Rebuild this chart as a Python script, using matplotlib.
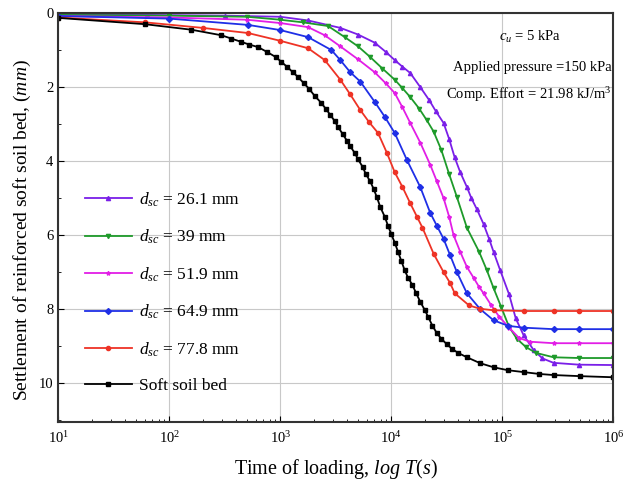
import numpy as np
import matplotlib
matplotlib.use("Agg")
import matplotlib.pyplot as plt

plt.rcParams['font.family'] = ['Liberation Serif', 'DejaVu Serif']
plt.rcParams['mathtext.fontset'] = 'custom'
plt.rcParams['mathtext.rm'] = 'Liberation Serif'
plt.rcParams['mathtext.it'] = 'Liberation Serif:italic'

# settlement curves, log10 of time (s) and settlement (mm)
purple_logt = [1.0, 1.8, 2.5, 3.0, 3.25, 3.54, 3.7, 3.85, 3.95, 4.03, 4.1, 4.17, 4.26, 4.34, 4.4, 4.47,
               4.52, 4.57, 4.62, 4.68, 4.72, 4.77, 4.83, 4.88, 4.92, 4.98, 5.06, 5.12, 5.19, 5.28, 5.36,
               5.46, 5.69, 6.0]
purple_s = [0.03, 0.05, 0.07, 0.1, 0.2, 0.4, 0.58, 0.8, 1.05, 1.27, 1.45, 1.62, 2.0, 2.35, 2.65, 2.97,
            3.4, 3.9, 4.3, 4.7, 5.0, 5.3, 5.7, 6.1, 6.45, 6.95, 7.6, 8.25, 8.7, 9.1, 9.33,
            9.45, 9.5, 9.51]

green_logt = [1.0, 2.0, 2.7, 3.0, 3.2, 3.43, 3.58, 3.7, 3.81, 3.92, 4.03, 4.1, 4.17, 4.25, 4.32, 4.38,
              4.45, 4.52, 4.59, 4.68, 4.79, 4.86, 4.92, 4.99, 5.06, 5.13, 5.21, 5.3, 5.46, 5.69, 6.0]
green_s = [0.05, 0.07, 0.1, 0.18, 0.25, 0.35, 0.65, 0.9, 1.19, 1.5, 1.8, 2.03, 2.27, 2.58, 2.9, 3.2,
           3.7, 4.35, 4.97, 5.8, 6.45, 6.95, 7.43, 7.95, 8.48, 8.8, 9.02, 9.18, 9.3, 9.32, 9.32]

magenta_logt = [1.0, 2.0, 2.7, 3.0, 3.25, 3.4, 3.54, 3.7, 3.85, 3.95, 4.03, 4.1, 4.17, 4.26, 4.35, 4.41,
                4.47, 4.52, 4.56, 4.62, 4.68, 4.74, 4.79, 4.83, 4.9, 4.97, 5.06, 5.15, 5.25, 5.46, 5.69, 6.0]
magenta_s = [0.08, 0.12, 0.18, 0.27, 0.38, 0.6, 0.9, 1.25, 1.6, 1.9, 2.16, 2.55, 2.97, 3.5, 4.1, 4.55,
             5.0, 5.5, 6.0, 6.45, 6.86, 7.15, 7.4, 7.57, 7.9, 8.2, 8.5, 8.78, 8.88, 8.92, 8.92, 8.92]

blue_logt = [1.0, 2.0, 2.71, 3.0, 3.25, 3.46, 3.54, 3.63, 3.72, 3.85, 3.94, 4.03, 4.14, 4.26, 4.35, 4.41,
             4.47, 4.53, 4.59, 4.68, 4.8, 4.92, 5.05, 5.19, 5.46, 5.69, 6.0]
blue_s = [0.08, 0.15, 0.32, 0.46, 0.65, 1.0, 1.27, 1.6, 1.85, 2.4, 2.8, 3.24, 3.97, 4.7, 5.4, 5.75,
          6.1, 6.55, 7.0, 7.57, 8.0, 8.3, 8.45, 8.5, 8.54, 8.54, 8.54]

red_logt = [1.0, 1.78, 2.3, 2.71, 3.0, 3.25, 3.4, 3.54, 3.63, 3.72, 3.8, 3.88, 3.96, 4.03, 4.1, 4.17,
            4.23, 4.28, 4.38, 4.47, 4.53, 4.57, 4.7, 4.8, 4.92, 5.19, 5.46, 5.69, 6.0]
red_s = [0.12, 0.25, 0.4, 0.54, 0.75, 0.95, 1.27, 1.8, 2.2, 2.62, 2.95, 3.24, 3.78, 4.3, 4.7, 5.14,
         5.5, 5.8, 6.5, 7.0, 7.3, 7.57, 7.9, 7.99, 8.03, 8.05, 8.05, 8.05, 8.05]

black_logt = [1.0, 1.78, 2.2, 2.47, 2.56, 2.65, 2.72, 2.8, 2.88, 2.96, 3.01, 3.06, 3.11, 3.16, 3.21,
              3.26, 3.31, 3.37, 3.41, 3.45, 3.49, 3.52, 3.56, 3.6, 3.63, 3.67, 3.7, 3.74, 3.77, 3.81,
              3.84, 3.87, 3.9, 3.94, 3.97, 4.0, 4.03, 4.06, 4.09, 4.12, 4.15, 4.19, 4.22, 4.26, 4.3,
              4.33, 4.37, 4.41, 4.45, 4.5, 4.55, 4.6, 4.68, 4.8, 4.92, 5.05, 5.19, 5.33, 5.46, 5.7, 6.0]
black_s = [0.13, 0.3, 0.45, 0.6, 0.69, 0.78, 0.85, 0.92, 1.05, 1.19, 1.32, 1.45, 1.59, 1.73, 1.89,
           2.05, 2.24, 2.43, 2.59, 2.75, 2.92, 3.08, 3.26, 3.45, 3.6, 3.78, 3.95, 4.15, 4.35, 4.55,
           4.75, 4.98, 5.24, 5.5, 5.75, 5.98, 6.2, 6.45, 6.7, 6.95, 7.15, 7.35, 7.55, 7.8, 8.02,
           8.2, 8.45, 8.65, 8.8, 8.95, 9.08, 9.18, 9.3, 9.46, 9.57, 9.65, 9.7, 9.75, 9.78, 9.81, 9.84]

series = [
    (purple_logt, purple_s, '$d_{sc}$ = 26.1 mm', '#7a1fe8', '^'),
    (green_logt, green_s, '$d_{sc}$ = 39 mm', '#1e9a2a', 'v'),
    (magenta_logt, magenta_s, '$d_{sc}$ = 51.9 mm', '#e21ee6', '*'),
    (blue_logt, blue_s, '$d_{sc}$ = 64.9 mm', '#1f2fe6', 'D'),
    (red_logt, red_s, '$d_{sc}$ = 77.8 mm', '#ee3326', 'o'),
    (black_logt, black_s, 'Soft soil bed', '#000000', 's'),
]

fig = plt.figure(figsize=(6.26, 4.84), dpi=100)
ax = fig.add_axes([0.093, 0.128, 0.887, 0.845])

for logt, s, lab, col, mk in series:
    t = np.power(10.0, logt)
    ax.plot(t, s, color=col, lw=1.3, marker=mk, ms=3, label=lab)

ax.set_xscale('log')
ax.set_xlim(10, 1e6)
ax.set_ylim(11.05, 0)
ax.set_yticks([0, 2, 4, 6, 8, 10])
ax.set_yticks([1, 3, 5, 7, 9, 11], minor=True)
ax.grid(True, which='major', color='#c8c8c8', lw=0.8)
ax.tick_params(which='both', direction='in', labelsize=10.5)
ax.tick_params(which='major', length=4)
ax.tick_params(which='minor', length=2)
ax.tick_params(axis='x', which='major', pad=6)
for sp in ax.spines.values():
    sp.set_linewidth(1.5)
    sp.set_color('#333333')

ax.set_xlabel('Time of loading, $log\\ T(s)$', fontsize=14.5, labelpad=8)
ax.set_ylabel('Settlement of reinforced soft soil bed, $(mm)$', fontsize=14)
ax.yaxis.set_label_coords(-0.045, 0.47)

ax.text(0.85, 0.941, '$c_u$ = 5 kPa', transform=ax.transAxes, ha='center', va='center', fontsize=10.5)
ax.text(0.996, 0.866, 'Applied pressure =150 kPa', transform=ax.transAxes, ha='right', va='center', fontsize=10.5)
ax.text(0.996, 0.80, 'Comp. Effort = 21.98 kJ/m$^3$', transform=ax.transAxes, ha='right', va='center', fontsize=10.5)

ax.legend(loc='upper left', bbox_to_anchor=(0.02, 0.605), frameon=False, fontsize=12.5,
          handlelength=2.7, labelspacing=1.1, handletextpad=0.4)

fig.savefig('out.png', dpi=100)
